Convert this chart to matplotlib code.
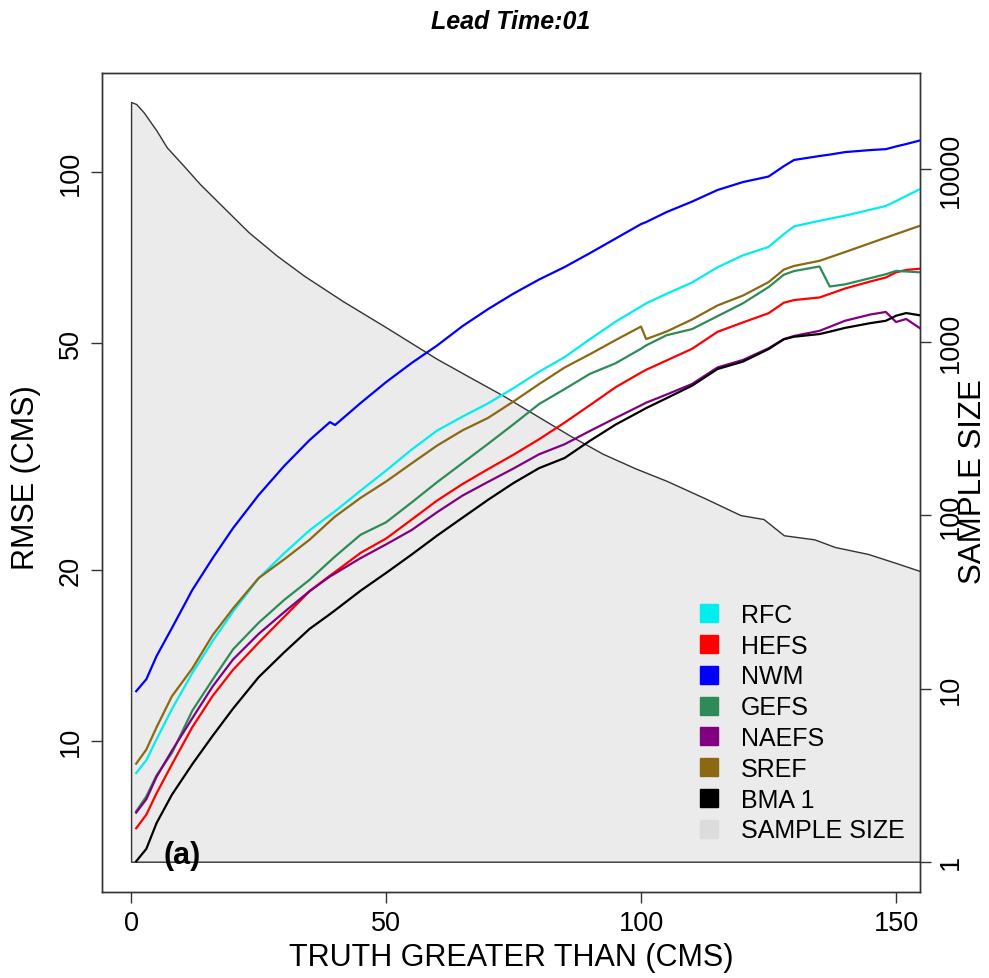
from matplotlib import pyplot as plt
from matplotlib.lines import Line2D
from matplotlib.ticker import NullLocator

# Thresholds (CMS) shared by every RMSE curve
truth_gt = [1, 3, 5, 8, 12, 16, 20, 25, 30, 35, 39, 40, 45, 50, 55, 60, 65,
            70, 75, 80, 85, 90, 95, 100, 101, 105, 110, 115, 120, 125, 128,
            130, 135, 137, 140, 145, 148, 150, 152, 155]

rmse_rfc = [8.79, 9.26, 10.08, 11.38, 13.17, 15.00, 16.89, 19.32, 21.38,
            23.47, 24.97, 25.35, 27.55, 29.88, 32.52, 35.13, 37.18, 39.22,
            41.72, 44.57, 47.28, 50.87, 54.58, 58.05, 58.78, 61.10, 63.95,
            68.03, 71.39, 73.86, 77.79, 80.27, 82.10, 82.78, 83.82, 85.87,
            87.17, 88.92, 90.78, 93.62]
rmse_hefs = [7.03, 7.43, 8.10, 9.10, 10.58, 12.01, 13.35, 14.89, 16.53,
             18.34, 19.54, 19.83, 21.42, 22.70, 24.50, 26.47, 28.30, 30.06,
             31.87, 33.92, 36.28, 38.95, 41.86, 44.43, 44.93, 46.65, 48.91,
             52.39, 54.43, 56.48, 58.93, 59.57, 60.20, 61.07, 62.42, 64.24,
             65.26, 66.64, 67.29, 67.67]
rmse_nwm = [12.24, 12.85, 14.11, 15.80, 18.43, 20.97, 23.68, 27.06, 30.43,
            33.81, 36.36, 35.93, 39.27, 42.74, 46.17, 49.56, 53.62, 57.43,
            61.16, 64.73, 68.08, 72.05, 76.40, 81.01, 81.67, 85.04, 88.72,
            92.99, 96.03, 98.19, 102.4, 105.0, 106.7, 107.3, 108.4, 109.3,
            109.7, 110.9, 112.0, 113.8]
rmse_gefs = [7.53, 8.00, 8.71, 9.53, 11.31, 12.83, 14.50, 16.14, 17.70,
             19.21, 20.72, 21.11, 23.05, 24.24, 26.26, 28.51, 30.81, 33.30,
             36.05, 39.11, 41.55, 44.21, 46.13, 48.93, 49.59, 51.67, 52.97,
             55.82, 58.81, 62.78, 66.01, 66.99, 68.25, 62.93, 63.48, 65.12,
             66.14, 67.02, 66.88, 66.62]
rmse_naefs = [7.49, 7.91, 8.66, 9.62, 10.97, 12.48, 13.92, 15.43, 16.85,
              18.35, 19.47, 19.71, 20.97, 22.17, 23.49, 25.25, 27.01, 28.55,
              30.14, 31.92, 33.24, 35.09, 36.97, 38.92, 39.33, 40.65, 42.42,
              45.36, 46.76, 49.02, 50.87, 51.52, 52.60, 53.45, 54.79, 56.20,
              56.77, 54.51, 55.18, 52.93]
rmse_sref = [9.13, 9.67, 10.58, 11.99, 13.42, 15.36, 17.11, 19.34, 20.86,
             22.59, 24.36, 24.81, 26.76, 28.59, 30.76, 33.06, 35.17, 36.98,
             39.53, 42.40, 45.34, 47.87, 50.66, 53.52, 50.87, 52.45, 55.07,
             58.29, 60.68, 64.05, 67.38, 68.39, 69.82, 70.82, 72.34, 75.03,
             76.68, 77.79, 78.93, 80.63]
rmse_bma = [6.15, 6.47, 7.18, 8.05, 9.11, 10.22, 11.41, 12.95, 14.32,
            15.75, 16.72, 16.98, 18.38, 19.75, 21.27, 22.97, 24.70, 26.55,
            28.42, 30.18, 31.44, 33.72, 35.99, 38.05, 38.48, 40.05, 42.13,
            45.07, 46.45, 48.85, 50.83, 51.36, 51.92, 52.42, 53.23, 54.27,
            54.78, 55.91, 56.52, 55.95]

# Sample size curve
sample_x = [0, 1, 2.5, 5, 7, 10.3, 13.5, 18.1, 23, 28.6, 34, 41.5, 50, 60,
            66, 73, 79.5, 86, 92.5, 99, 105, 112.5, 119.5, 124, 128, 134,
            138, 144.5, 150, 155]
sample_n = [24410, 23770, 21230, 16670, 13360, 10460, 8202, 6017, 4332,
            3161, 2413, 1730, 1220, 800.7, 638.5, 491.2, 377.1, 289.7, 226.9,
            186.3, 158.4, 125.7, 100.4, 95.3, 76.8, 72.7, 65.7, 59.9, 53.1,
            47.4]

labels = ['RFC', 'HEFS', 'NWM', 'GEFS', 'NAEFS', 'SREF', 'BMA 1']
colors = ['#00EEEE', '#FF0000', '#0000FF', '#2E8B57', '#800080', '#8B6914',
          '#000000']
series = [rmse_rfc, rmse_hefs, rmse_nwm, rmse_gefs, rmse_naefs, rmse_sref,
          rmse_bma]

x_ticks = [0, 50, 100, 150]
rmse_ticks = [10, 20, 50, 100]
n_ticks = [1, 10, 100, 1000, 10000]


def main():

    plt.rcParams['font.family'] = 'Liberation Sans'

    fig = plt.figure(figsize=(9.89, 9.79), dpi=100)
    ax = fig.add_axes([102 / 989, 86 / 979, 818 / 989, 819 / 979])
    ax2 = ax.twinx()

    # Sample size polygon on the right axis
    ax2.fill_between(sample_x, sample_n, 1, facecolor='#EBEBEB',
                     edgecolor='#333333', linewidth=1.0)
    ax2.set_yscale('log')
    ax2.set_ylim(10 ** -0.175, 10 ** 4.555)
    ax2.set_yticks(n_ticks)
    ax2.set_yticklabels([str(t) for t in n_ticks], rotation=90, va='center',
                        fontsize=19.5)
    ax2.yaxis.set_minor_locator(NullLocator())

    # RMSE curves on the left axis, drawn above the polygon
    ax.set_zorder(ax2.get_zorder() + 1)
    ax.patch.set_visible(False)
    for vals, col in zip(series, colors):
        ax.plot(truth_gt, vals, color=col, linewidth=1.6)

    ax.set_yscale('log')
    ax.set_ylim(10 ** 0.735, 10 ** 2.174)
    ax.set_xlim(-5.7, 154.7)
    ax.set_yticks(rmse_ticks)
    ax.set_yticklabels([str(t) for t in rmse_ticks], rotation=90,
                       va='center', fontsize=19.5)
    ax.yaxis.set_minor_locator(NullLocator())
    ax.set_xticks(x_ticks)
    ax.set_xticklabels([str(t) for t in x_ticks], fontsize=19.5)

    for a in (ax, ax2):
        a.tick_params(length=8, width=1, color='#333333', pad=5)
        for sp in a.spines.values():
            sp.set_color('#333333')
            sp.set_linewidth(1.0)

    handles = [Line2D([], [], linestyle='none', marker='s', markersize=13,
                      markerfacecolor=c, markeredgecolor=c) for c in colors]
    handles.append(Line2D([], [], linestyle='none', marker='s',
                          markersize=13, markerfacecolor='#DCDCDC',
                          markeredgecolor='#DCDCDC'))
    ax.legend(handles, labels + ['SAMPLE SIZE'], loc='upper left',
              bbox_to_anchor=(696 / 989, 1 - 604 / 979),
              bbox_transform=fig.transFigure, frameon=False, fontsize=18,
              borderpad=0, borderaxespad=0, handlelength=1.0,
              handletextpad=0.8, labelspacing=0.27)

    ax.text(0.0746, 0.045, '(a)', transform=ax.transAxes, fontsize=22,
            fontweight='bold', va='center', ha='left')

    fig.text(511 / 989, 1 - 22 / 979, 'Lead Time:01', fontsize=18,
             fontweight='bold', fontstyle='italic', ha='center', va='center')
    fig.text(511 / 989, 1 - 958 / 979, 'TRUTH GREATER THAN (CMS)',
             fontsize=22, ha='center', va='center')
    fig.text(26 / 989, 1 - 478 / 979, 'RMSE (CMS)', fontsize=22,
             rotation=90, ha='center', va='center')
    fig.text(973 / 989, 1 - 482 / 979, 'SAMPLE SIZE', fontsize=22.5,
             rotation=90, ha='center', va='center')

    plt.savefig('out.png', dpi=100)
    return None


if __name__ == "__main__":
    main()
